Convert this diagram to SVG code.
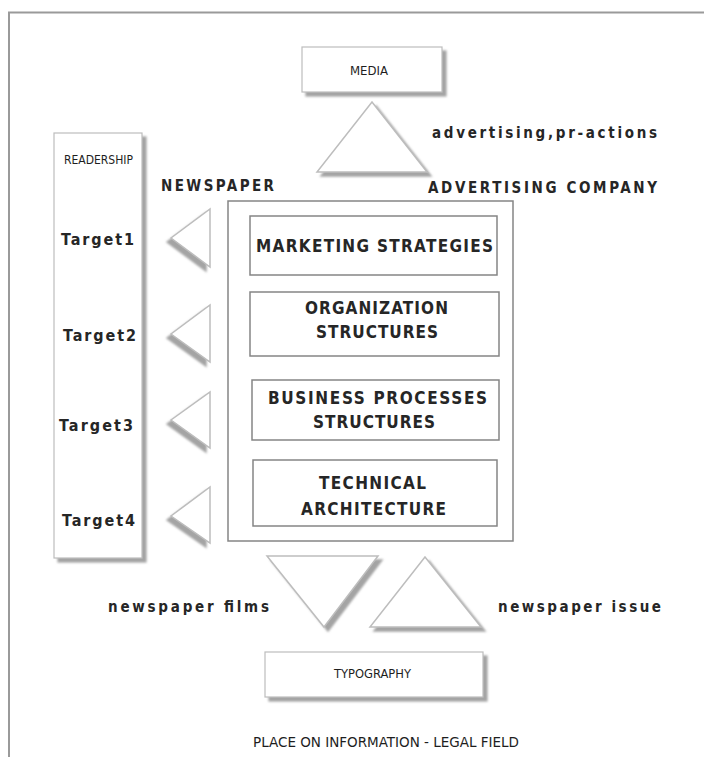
<svg xmlns="http://www.w3.org/2000/svg" width="704" height="757" viewBox="0 0 704 757">
<style>
.frame{stroke:#9a9a9a;stroke-width:2;fill:none}
.box{fill:#fff;stroke:#858585;stroke-width:1.5}
.sbox{fill:#fff;stroke:#bdbdbd;stroke-width:1.2}
.tri{fill:#fff;stroke:#bdbdbd;stroke-width:1.5}
.lbl{font-family:"Liberation Sans Narrow","DejaVu Sans Condensed","Liberation Sans",sans-serif;font-weight:bold;fill:#262626}
.big{font-size:17px}
.mid{font-size:16px}
.sml{font-size:15px}
.sm{font-family:"Liberation Sans Narrow","DejaVu Sans Condensed","Liberation Sans",sans-serif;font-size:12.5px;fill:#1e1e1e}
.foot{font-family:"Liberation Sans Narrow","DejaVu Sans Condensed","Liberation Sans",sans-serif;font-size:14px;fill:#1e1e1e}
</style>
<defs>
<filter id="shr" x="-20%" y="-20%" width="150%" height="150%"><feDropShadow dx="4" dy="4" stdDeviation="1.2" flood-color="#9a9a9a" flood-opacity="0.9"/></filter>
<filter id="shl" x="-30%" y="-20%" width="150%" height="150%"><feDropShadow dx="-4" dy="4" stdDeviation="1.2" flood-color="#9a9a9a" flood-opacity="0.9"/></filter>
</defs>
<rect width="704" height="757" fill="#fff"/>
<path class="frame" d="M9,757 V12.5 H704"/>

<g id="media">
<rect class="sbox" x="302" y="47" width="140" height="45" filter="url(#shr)"/>
<text class="sm" x="350" y="75" textLength="38" lengthAdjust="spacingAndGlyphs">MEDIA</text>
</g>

<g id="readership">
<rect class="sbox" x="54" y="133" width="88" height="425" filter="url(#shr)"/>
<text class="sm" x="64" y="164" textLength="69" lengthAdjust="spacingAndGlyphs">READERSHIP</text>
<text class="lbl mid" x="61" y="245" textLength="73" lengthAdjust="spacing">Target1</text>
<text class="lbl mid" x="63" y="341" textLength="73" lengthAdjust="spacing">Target2</text>
<text class="lbl mid" x="59" y="431" textLength="74" lengthAdjust="spacing">Target3</text>
<text class="lbl mid" x="62" y="526" textLength="73" lengthAdjust="spacing">Target4</text>
</g>

<g id="newspaper-label">
<text class="lbl sml" x="161" y="191" textLength="113" lengthAdjust="spacing">NEWSPAPER</text>
</g>
<g id="advertising-company-label">
<text class="lbl sml" x="428" y="193" textLength="229" lengthAdjust="spacing">ADVERTISING COMPANY</text>
</g>

<g id="company">
<rect class="box" x="228" y="201" width="285" height="340"/>
<g id="marketing">
<rect class="box" x="250" y="216" width="247" height="59"/>
<text class="lbl big" x="256" y="252" textLength="237" lengthAdjust="spacing">MARKETING STRATEGIES</text>
</g>
<g id="organization">
<rect class="box" x="250" y="292" width="249" height="64"/>
<text class="lbl big" x="305" y="314" textLength="143" lengthAdjust="spacing">ORGANIZATION</text>
<text class="lbl big" x="316" y="338" textLength="122" lengthAdjust="spacing">STRUCTURES</text>
</g>
<g id="business">
<rect class="box" x="252" y="380" width="247" height="60"/>
<text class="lbl big" x="268" y="404" textLength="219" lengthAdjust="spacing">BUSINESS PROCESSES</text>
<text class="lbl big" x="313" y="428" textLength="122" lengthAdjust="spacing">STRUCTURES</text>
</g>
<g id="technical">
<rect class="box" x="253" y="460" width="244" height="66"/>
<text class="lbl big" x="319" y="489" textLength="107" lengthAdjust="spacing">TECHNICAL</text>
<text class="lbl big" x="301" y="515" textLength="145" lengthAdjust="spacing">ARCHITECTURE</text>
</g>
</g>

<g id="typography">
<rect class="sbox" x="265" y="652" width="218" height="45" filter="url(#shr)"/>
<text class="sm" x="334" y="678" textLength="77" lengthAdjust="spacingAndGlyphs">TYPOGRAPHY</text>
</g>

<g id="connectors">
<polygon class="tri" points="372,102 427,172 317,172" filter="url(#shr)"/>
<polygon class="tri" points="171,238 210,209 210,267" filter="url(#shl)"/>
<polygon class="tri" points="171,334 210,305 210,362" filter="url(#shl)"/>
<polygon class="tri" points="171,420 210,392 210,448" filter="url(#shl)"/>
<polygon class="tri" points="171,516 210,487 210,543" filter="url(#shl)"/>
<polygon class="tri" points="267,556 378,556 324,627" filter="url(#shr)"/>
<polygon class="tri" points="425,557 481,627 370,627" filter="url(#shr)"/>
</g>

<g id="flow-labels">
<text class="lbl sml" x="432" y="138" textLength="225" lengthAdjust="spacing">advertising,pr-actions</text>
<text class="lbl sml" x="108" y="612" textLength="161" lengthAdjust="spacing">newspaper films</text>
<text class="lbl sml" x="498" y="612" textLength="163" lengthAdjust="spacing">newspaper issue</text>
</g>

<text class="foot" x="253" y="747" textLength="266" lengthAdjust="spacingAndGlyphs">PLACE ON INFORMATION - LEGAL FIELD</text>
</svg>
